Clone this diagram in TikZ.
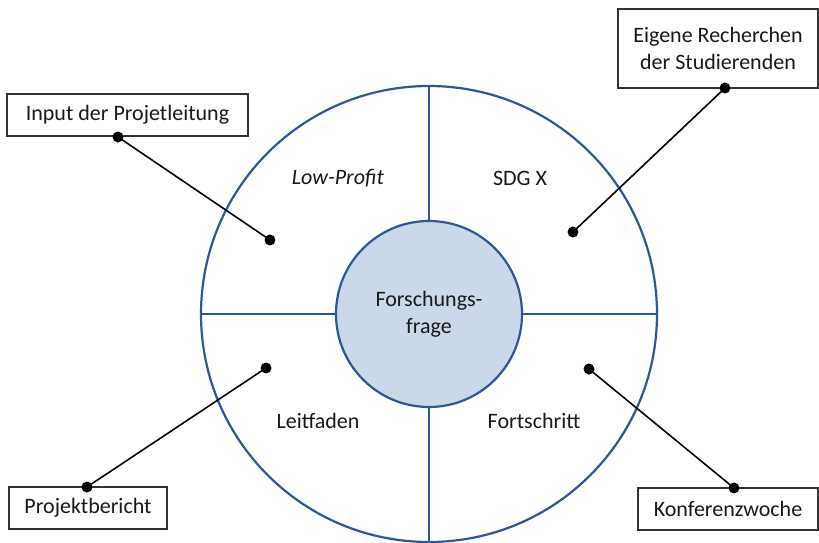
\documentclass[tikz,border=0pt]{standalone}
\usepackage{fontspec}
\setmainfont{Carlito}
\definecolor{ringblue}{RGB}{47,86,155}
\definecolor{corefill}{RGB}{203,216,233}
\definecolor{txt}{RGB}{25,25,25}
\begin{document}
\begin{tikzpicture}[x=1pt,y=-1pt,
  lbl/.style={font=\fontsize{22}{27}\selectfont, text=txt},
  box/.style={draw=black!80, line width=1.1pt, fill=white, lbl, inner sep=0pt},
  ring/.style={draw=ringblue, line width=2.2pt},
  conn/.style={draw=black, line width=1.6pt},
  dotc/.style={circle, fill=black, inner sep=0pt, minimum size=11pt}]
\useasboundingbox (0,0) rectangle (819,543);
% rings
\coordinate (c) at (429,314);
\draw[ring] (c) circle[radius=228];
\node[circle, ring, fill=corefill, minimum size=186pt, inner sep=0pt, align=center, lbl] (core) at (c) {Forschungs-\\frage};
\draw[ring] (429,86) -- (core.north);
\draw[ring] (core.south) -- (429,542);
\draw[ring] (201,314) -- (core.west);
\draw[ring] (core.east) -- (657,314);
% sector labels
\node[lbl, font=\fontsize{22}{27}\selectfont\itshape] (lp) at (338,178) {Low-Profit};
\node[lbl] (sdg) at (520,178) {SDG X};
\node[lbl] (lf) at (318,421) {Leitfaden};
\node[lbl] (fs) at (534,421) {Fortschritt};
% boxes
\node[box, minimum width=241pt, minimum height=42pt] (b1) at (127.5,115) {Input der Projetleitung};
\node[box, minimum width=200pt, minimum height=79pt, align=center] (b2) at (718,48.5) {Eigene Recherchen\\der Studierenden};
\node[box, minimum width=158pt, minimum height=42pt] (b3) at (88,508) {Projektbericht};
\node[box, minimum width=180pt, minimum height=42pt] (b4) at (728,509) {Konferenzwoche};
% dots
\node[dotc] (d1o) at (118,137) {};
\node[dotc] (d1i) at (270,240) {};
\node[dotc] (d2o) at (725,88) {};
\node[dotc] (d2i) at (573,232) {};
\node[dotc] (d3o) at (87,487) {};
\node[dotc] (d3i) at (266,368) {};
\node[dotc] (d4o) at (734,488) {};
\node[dotc] (d4i) at (589,369) {};
\draw[conn] (d1o.center) -- (d1i.center);
\draw[conn] (d2o.center) -- (d2i.center);
\draw[conn] (d3o.center) -- (d3i.center);
\draw[conn] (d4o.center) -- (d4i.center);
\end{tikzpicture}
\end{document}
